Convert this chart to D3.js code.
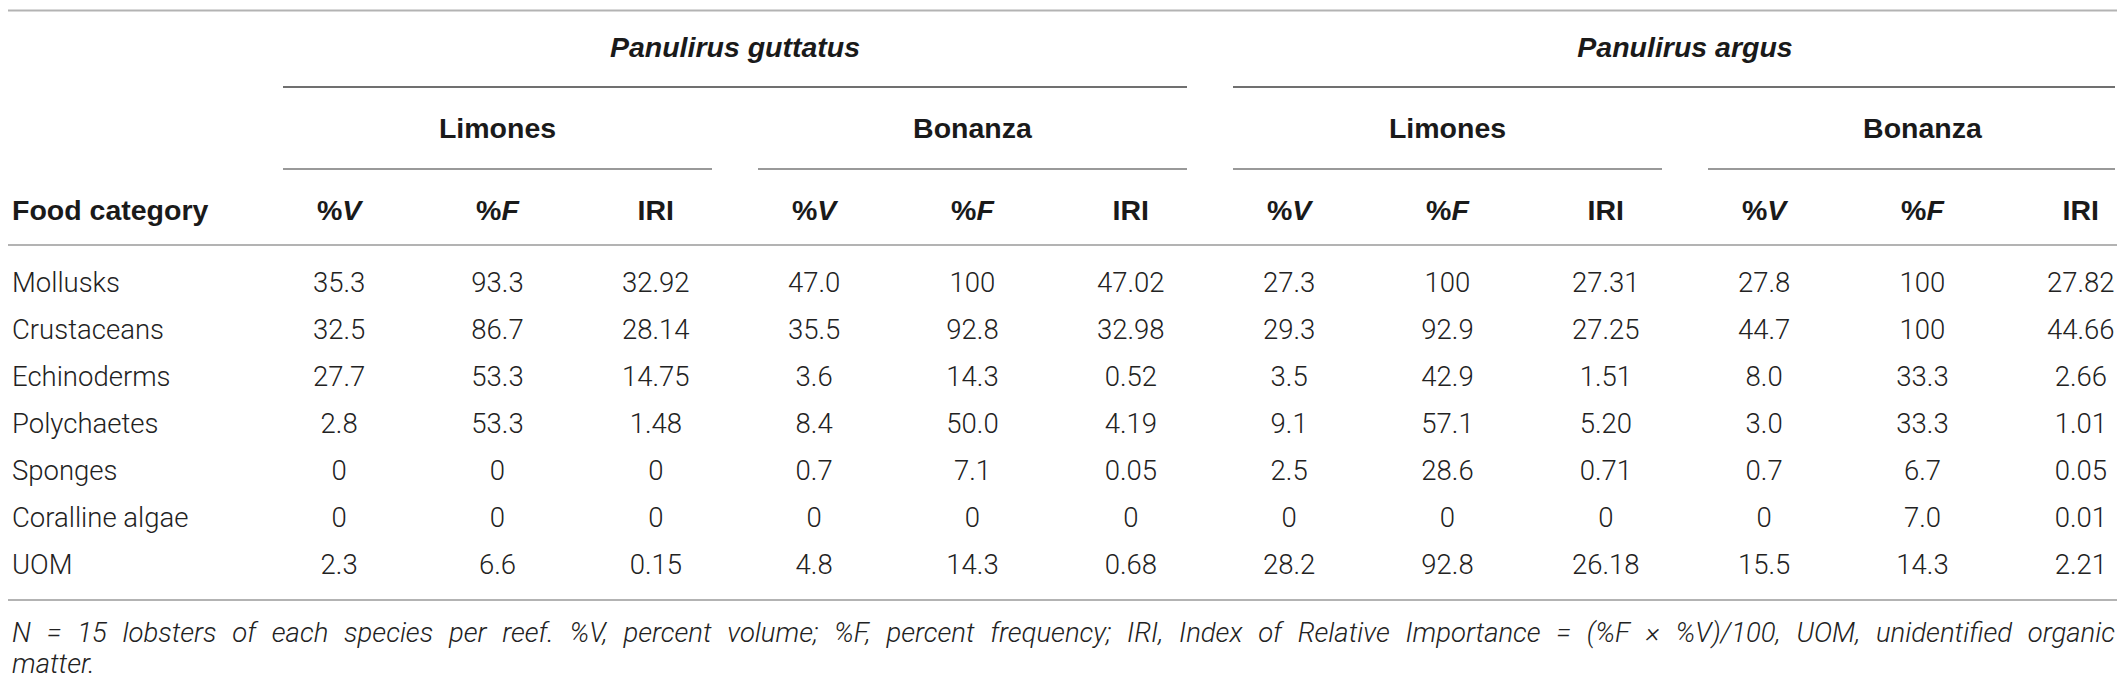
<!DOCTYPE html>
<html>
<head>
<meta charset="utf-8">
<script src="https://cdn.jsdelivr.net/npm/d3@7"></script>
<style>
  body { margin: 0; background: #fff; }
  svg { display: block; }
</style>
</head>
<body>
<svg id="table_svg" width="2128" height="687"></svg>
<script>
// food categories (rows)
const categories = ["Mollusks", "Crustaceans", "Echinoderms", "Polychaetes", "Sponges", "Coralline algae", "UOM"];

// Panulirus guttatus - Limones
const pgLimonesV = [35.3, 32.5, 27.7, 2.8, 0, 0, 2.3];
const pgLimonesF = [93.3, 86.7, 53.3, 53.3, 0, 0, 6.6];
const pgLimonesIRI = [32.92, 28.14, 14.75, 1.48, 0, 0, 0.15];
// Panulirus guttatus - Bonanza
const pgBonanzaV = [47.0, 35.5, 3.6, 8.4, 0.7, 0, 4.8];
const pgBonanzaF = [100, 92.8, 14.3, 50.0, 7.1, 0, 14.3];
const pgBonanzaIRI = [47.02, 32.98, 0.52, 4.19, 0.05, 0, 0.68];
// Panulirus argus - Limones
const paLimonesV = [27.3, 29.3, 3.5, 9.1, 2.5, 0, 28.2];
const paLimonesF = [100, 92.9, 42.9, 57.1, 28.6, 0, 92.8];
const paLimonesIRI = [27.31, 27.25, 1.51, 5.20, 0.71, 0, 26.18];
// Panulirus argus - Bonanza
const paBonanzaV = [27.8, 44.7, 8.0, 3.0, 0.7, 0, 15.5];
const paBonanzaF = [100, 100, 33.3, 33.3, 6.7, 7.0, 14.3];
const paBonanzaIRI = [27.82, 44.66, 2.66, 1.01, 0.05, 0.01, 2.21];

const species = ["Panulirus guttatus", "Panulirus argus"];
const reefs = ["Limones", "Bonanza"];
const measures = ["V", "F", "IRI"];

const footnote = "N = 15 lobsters of each species per reef. %V, percent volume; %F, percent frequency; IRI, Index of Relative Importance = (%F \u00d7 %V)/100, UOM, unidentified organic";
const footnoteEnd = "matter.";

// group the columns
const groups = [
  { key: "pgL", species: 0, reef: "Limones", V: pgLimonesV, F: pgLimonesF, IRI: pgLimonesIRI },
  { key: "pgB", species: 0, reef: "Bonanza", V: pgBonanzaV, F: pgBonanzaF, IRI: pgBonanzaIRI },
  { key: "paL", species: 1, reef: "Limones", V: paLimonesV, F: paLimonesF, IRI: paLimonesIRI },
  { key: "paB", species: 1, reef: "Bonanza", V: paBonanzaV, F: paBonanzaF, IRI: paBonanzaIRI }
];

const tableLeft = 8;
const tableRight = 2117;
const linePad = 23;

const headFont = "'Liberation Sans', Arial, sans-serif";
const bodyFont = "Roboto, 'Noto Sans', sans-serif";

let svg = d3.select("#table_svg");

// scales
const xGroup = d3.scaleBand().domain(groups.map((g) => g.key)).range([260, 2160]);
const xCol = d3.scaleBand().domain(measures).range([0, xGroup.bandwidth()]);
const y = d3.scaleBand().domain(categories).range([258.5, 587.5]);

function colX(g, m) {
  return xGroup(g.key) + xCol(m) + xCol.bandwidth() / 2;
}

function fmt(v, m) {
  if (v === 0 || v === 100) return String(v);
  return m === "IRI" ? v.toFixed(2) : v.toFixed(1);
}

function rule(x1, x2, yy, color) {
  svg.append("line")
    .attr("x1", x1).attr("x2", x2)
    .attr("y1", yy).attr("y2", yy)
    .attr("stroke", color)
    .attr("stroke-width", 2);
}

// horizontal rules
rule(tableLeft, tableRight, 10.5, "#b3b3b3");
rule(tableLeft, tableRight, 245, "#b3b3b3");
rule(tableLeft, tableRight, 600, "#b3b3b3");

// species headers
species.forEach((s, i) => {
  let gs = groups.filter((g) => g.species === i);
  let x1 = xGroup(gs[0].key) + linePad;
  let x2 = Math.min(xGroup(gs[gs.length - 1].key) + xGroup.bandwidth() - linePad, tableRight - 2);
  svg.append("text")
    .attr("x", (xGroup(gs[0].key) + xGroup(gs[gs.length - 1].key) + xGroup.bandwidth()) / 2)
    .attr("y", 47)
    .attr("dy", "0.36em")
    .attr("text-anchor", "middle")
    .style("font-family", headFont)
    .style("font-size", "28.5px")
    .style("font-weight", "bold")
    .style("font-style", "italic")
    .attr("fill", "#1a1a1a")
    .text(s);
  rule(x1, x2, 87, "#707070");
});

// reef headers
groups.forEach((g) => {
  let x1 = xGroup(g.key) + linePad;
  let x2 = Math.min(xGroup(g.key) + xGroup.bandwidth() - linePad, tableRight - 2);
  svg.append("text")
    .attr("x", xGroup(g.key) + xGroup.bandwidth() / 2)
    .attr("y", 128)
    .attr("dy", "0.36em")
    .attr("text-anchor", "middle")
    .style("font-family", headFont)
    .style("font-size", "28.5px")
    .style("font-weight", "bold")
    .attr("fill", "#1a1a1a")
    .text(g.reef);
  rule(x1, x2, 169, "#999999");
});

// column headers
svg.append("text")
  .attr("x", 12)
  .attr("y", 210)
  .attr("dy", "0.36em")
  .style("font-family", headFont)
  .style("font-size", "28.5px")
  .style("font-weight", "bold")
  .attr("fill", "#1a1a1a")
  .text("Food category");

groups.forEach((g) => {
  measures.forEach((m) => {
    let t = svg.append("text")
      .attr("x", colX(g, m))
      .attr("y", 210)
      .attr("dy", "0.36em")
      .attr("text-anchor", "middle")
      .style("font-family", headFont)
      .style("font-size", "28.5px")
      .style("font-weight", "bold")
      .attr("fill", "#1a1a1a");
    if (m === "IRI") {
      t.text("IRI");
    } else {
      t.append("tspan").text("%");
      t.append("tspan").style("font-style", "italic").text(m);
    }
  });
});

// row labels
svg.selectAll(".rowlabel")
  .data(categories)
  .enter()
  .append("text")
  .attr("class", "rowlabel")
  .attr("x", 12)
  .attr("y", (d) => y(d) + y.bandwidth() / 2)
  .attr("dy", "0.36em")
  .style("font-family", bodyFont)
  .style("font-size", "27.5px")
  .style("font-weight", 300)
  .attr("fill", "#222")
  .text((d) => d);

// cells
groups.forEach((g) => {
  measures.forEach((m) => {
    svg.selectAll(".cell_" + g.key + m)
      .data(g[m])
      .enter()
      .append("text")
      .attr("class", "cell_" + g.key + m)
      .attr("x", colX(g, m))
      .attr("y", (d, i) => y(categories[i]) + y.bandwidth() / 2)
      .attr("dy", "0.36em")
      .attr("text-anchor", "middle")
      .style("font-family", bodyFont)
      .style("font-size", "27.5px")
      .style("font-weight", 300)
      .attr("fill", "#222")
      .text((d) => fmt(d, m));
  });
});

// footnote, first line justified across the table width
let words = footnote.split(" ");
let wordNodes = words.map((w) =>
  svg.append("text")
    .attr("y", 632)
    .attr("dy", "0.36em")
    .style("font-family", bodyFont)
    .style("font-size", "27.5px")
    .style("font-weight", 300)
    .style("font-style", "italic")
    .attr("fill", "#222")
    .text(w)
);
let widths = wordNodes.map((n) => n.node().getComputedTextLength());
let total = d3.sum(widths);
let gap = (tableRight - 2 - 12 - total) / (words.length - 1);
let cx = 12;
wordNodes.forEach((n, i) => {
  n.attr("x", cx);
  cx += widths[i] + gap;
});

svg.append("text")
  .attr("x", 12)
  .attr("y", 663)
  .attr("dy", "0.36em")
  .style("font-family", bodyFont)
  .style("font-size", "27.5px")
  .style("font-weight", 300)
  .style("font-style", "italic")
  .attr("fill", "#222")
  .text(footnoteEnd);
</script>
</body>
</html>
